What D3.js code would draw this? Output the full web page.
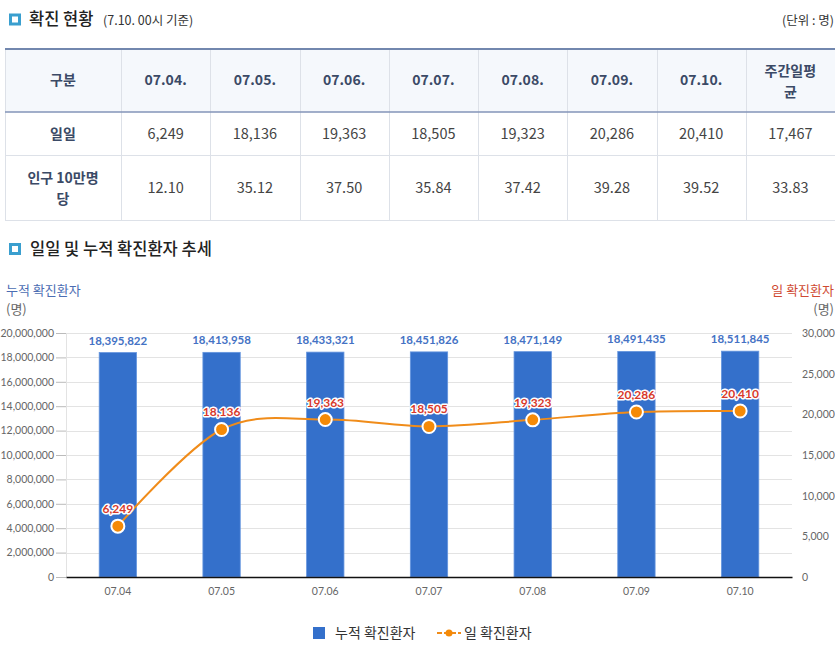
<!DOCTYPE html>
<html><head><meta charset="utf-8">
<script src="https://cdn.jsdelivr.net/npm/d3@7"></script>
<style>
body{margin:0;background:#fff;}
text{font-family:"Noto Sans CJK KR","Noto Sans",sans-serif;}
.lato{font-family:Lato,"Noto Sans",sans-serif;}
</style></head>
<body>
<script>
// ---- data ----
const tableDates = ["07.04.","07.05.","07.06.","07.07.","07.08.","07.09.","07.10."];
const avgHeader = ["주간일평","균"];
const dailyCases = [6249, 18136, 19363, 18505, 19323, 20286, 20410];
const dailyAvg = 17467;
const per100k = ["12.10","35.12","37.50","35.84","37.42","39.28","39.52"];
const per100kAvg = "33.83";
const rowLabels = [["일일"],["인구 10만명","당"]];
const chartDates = ["07.04","07.05","07.06","07.07","07.08","07.09","07.10"];
const cumulative = [18395822, 18413958, 18433321, 18451826, 18471149, 18491435, 18511845];
const leftTicks = [0,2000000,4000000,6000000,8000000,10000000,12000000,14000000,16000000,18000000,20000000];
const rightTicks = [0,5000,10000,15000,20000,25000,30000];

const W=835,H=647;
const svg=d3.select("body").append("svg").attr("width",W).attr("height",H);
const fmt=d3.format(",");

function icon(x,y){
  svg.append("rect").attr("x",x+1.5).attr("y",y+1.5).attr("width",9).attr("height",9)
    .attr("fill","#fff").attr("stroke","#3a9fcf").attr("stroke-width",3);
}
// ---- section 1 title ----
icon(9,13.5);
svg.append("text").attr("x",29).attr("y",25).attr("font-size",16.5).attr("font-weight",500).attr("fill","#222").text("확진 현황");
svg.append("text").attr("x",103).attr("y",25).attr("font-size",12.5).attr("fill","#333").text("(7.10. 00시 기준)");
svg.append("text").attr("x",834).attr("y",25).attr("text-anchor","end").attr("font-size",12.5).attr("fill","#333").text("(단위 : 명)");

// ---- table ----
const colX = d3.scaleBand().domain(d3.range(8)).range([121,835]);
const firstCol=[5,121];
svg.append("rect").attr("x",5).attr("y",49).attr("width",830).attr("height",63).attr("fill","#f5f8fc");
const vlines=[5].concat(d3.range(8).map(i=>colX(i)));
svg.selectAll(".vl").data(vlines).join("line")
  .attr("x1",d=>Math.round(d)+0.5).attr("x2",d=>Math.round(d)+0.5).attr("y1",49).attr("y2",220)
  .attr("stroke","#dde1e8").attr("stroke-width",1);
svg.append("line").attr("x1",5).attr("x2",835).attr("y1",155.5).attr("y2",155.5).attr("stroke","#dde1e8");
svg.append("line").attr("x1",5).attr("x2",835).attr("y1",220.5).attr("y2",220.5).attr("stroke","#dde1e8");
svg.append("line").attr("x1",5).attr("x2",835).attr("y1",112).attr("y2",112).attr("stroke","#8395b8").attr("stroke-width",1.5);
svg.append("line").attr("x1",5).attr("x2",835).attr("y1",49).attr("y2",49).attr("stroke","#7287ae").attr("stroke-width",2);

function cellText(cx,cy,lines,opts){
  const lh=21;
  const start=cy-(lines.length-1)*lh/2;
  lines.forEach((l,i)=>{
    svg.append("text").attr("x",cx).attr("y",start+i*lh).attr("dy","0.36em")
      .attr("text-anchor","middle").attr("font-size",opts.size).attr("font-weight",opts.weight)
      .attr("fill",opts.color).text(l);
  });
}
const hdr={size:14,weight:700,color:"#3b4a66"};
const cell={size:14.5,weight:400,color:"#444"};
const c0=(firstCol[0]+firstCol[1])/2;
cellText(c0,80,["구분"],hdr);
tableDates.forEach((d,i)=>cellText(colX(i)+colX.bandwidth()/2,80,[d],hdr));
cellText(colX(7)+colX.bandwidth()/2,81,avgHeader,hdr);
cellText(c0,133.5,rowLabels[0],hdr);
dailyCases.forEach((d,i)=>cellText(colX(i)+colX.bandwidth()/2,133.5,[fmt(d)],cell));
cellText(colX(7)+colX.bandwidth()/2,133.5,[fmt(dailyAvg)],cell);
cellText(c0,188,rowLabels[1],hdr);
per100k.forEach((d,i)=>cellText(colX(i)+colX.bandwidth()/2,188,[d],cell));
cellText(colX(7)+colX.bandwidth()/2,188,[per100kAvg],cell);

// ---- section 2 title ----
icon(9,243);
svg.append("text").attr("x",30).attr("y",255).attr("font-size",16.5).attr("font-weight",500).attr("fill","#222").text("일일 및 누적 확진환자 추세");

svg.append("text").attr("x",6).attr("y",295).attr("font-size",13).attr("fill","#4b6db3").text("누적 확진환자");
svg.append("text").attr("x",6).attr("y",314).attr("font-size",13).attr("fill","#666").text("(명)");
svg.append("text").attr("x",834).attr("y",295).attr("text-anchor","end").attr("font-size",13).attr("fill","#cf4a32").text("일 확진환자");
svg.append("text").attr("x",834).attr("y",314).attr("text-anchor","end").attr("font-size",13).attr("fill","#666").text("(명)");

// ---- chart ----
const x=d3.scaleBand().domain(chartDates).range([66,792]).padding(0);
const yL=d3.scaleLinear().domain([0,20000000]).range([577,333]);
const yR=d3.scaleLinear().domain([0,30000]).range([577,333]);

svg.append("g").selectAll("line").data(leftTicks.filter(d=>d>0)).join("line")
  .attr("x1",66).attr("x2",792).attr("y1",d=>Math.round(yL(d))+0.5).attr("y2",d=>Math.round(yL(d))+0.5)
  .attr("stroke","#e3e3e3");
svg.append("line").attr("x1",66.5).attr("x2",66.5).attr("y1",333).attr("y2",577).attr("stroke","#e3e3e3");

const gL=svg.append("g").attr("transform","translate(66,0)")
  .call(d3.axisLeft(yL).tickValues(leftTicks).tickFormat(fmt).tickSize(10).tickPadding(2));
gL.select(".domain").remove();
gL.selectAll("line").attr("stroke","#bbb");
gL.selectAll("text").attr("class","lato").attr("font-size",10.5).attr("fill","#666");

const gR=svg.append("g").attr("transform","translate(802,0)")
  .call(d3.axisRight(yR).tickValues(rightTicks).tickFormat(fmt).tickSize(0).tickPadding(0));
gR.select(".domain").remove();
gR.selectAll("text").attr("class","lato").attr("font-size",10.5).attr("fill","#666");

const bw=x.bandwidth()*0.36;
svg.append("g").selectAll("rect").data(cumulative).join("rect")
  .attr("x",(d,i)=>x(chartDates[i])+x.bandwidth()/2-bw/2).attr("width",bw)
  .attr("y",d=>yL(d)).attr("height",d=>577-yL(d))
  .attr("fill","#3470cb").attr("stroke","#6595de").attr("stroke-width",0.8);

const gX=svg.append("g").attr("transform","translate(0,577)")
  .call(d3.axisBottom(x).tickSize(0).tickPadding(11));
gX.select(".domain").attr("stroke","#111").attr("stroke-width",1.5);
gX.selectAll("text").attr("class","lato").attr("font-size",10.5).attr("fill","#666");

svg.append("g").selectAll("text").data(cumulative).join("text")
  .attr("class","lato").attr("x",(d,i)=>x(chartDates[i])+x.bandwidth()/2).attr("y",d=>yL(d)-8)
  .attr("text-anchor","middle").attr("font-size",11.5).attr("font-weight",700).attr("fill","#4472c4")
  .text(d=>fmt(d));

const pts=dailyCases.map((d,i)=>[x(chartDates[i])+x.bandwidth()/2,yR(d)]);
svg.append("path").datum(pts).attr("d",d3.line().curve(d3.curveCardinal.tension(0)))
  .attr("fill","none").attr("stroke","#f08c1a").attr("stroke-width",2);
svg.append("g").selectAll("circle").data(pts).join("circle")
  .attr("cx",d=>d[0]).attr("cy",d=>d[1]).attr("r",6.5)
  .attr("fill","#f58a07").attr("stroke","#fff").attr("stroke-width",2);
svg.append("g").selectAll("text").data(dailyCases).join("text")
  .attr("class","lato").attr("x",(d,i)=>pts[i][0]).attr("y",(d,i)=>pts[i][1]-13)
  .attr("text-anchor","middle").attr("font-size",12).attr("font-weight",700).attr("fill","#d8392b")
  .attr("stroke","#fff").attr("stroke-width",3).attr("paint-order","stroke").attr("stroke-linejoin","round")
  .text(d=>fmt(d));

svg.append("rect").attr("x",313).attr("y",627).attr("width",12).attr("height",12).attr("fill","#3470cb");
svg.append("text").attr("x",335).attr("y",633).attr("dy","0.36em").attr("font-size",14).attr("fill","#333").text("누적 확진환자");
svg.append("line").attr("x1",437).attr("x2",461).attr("y1",633).attr("y2",633)
  .attr("stroke","#f08c1a").attr("stroke-width",2).attr("stroke-dasharray","5,2");
svg.append("circle").attr("cx",449).attr("cy",633).attr("r",3.5).attr("fill","#f58a07");
svg.append("text").attr("x",464).attr("y",633).attr("dy","0.36em").attr("font-size",14).attr("fill","#333").text("일 확진환자");
</script>
</body></html>
